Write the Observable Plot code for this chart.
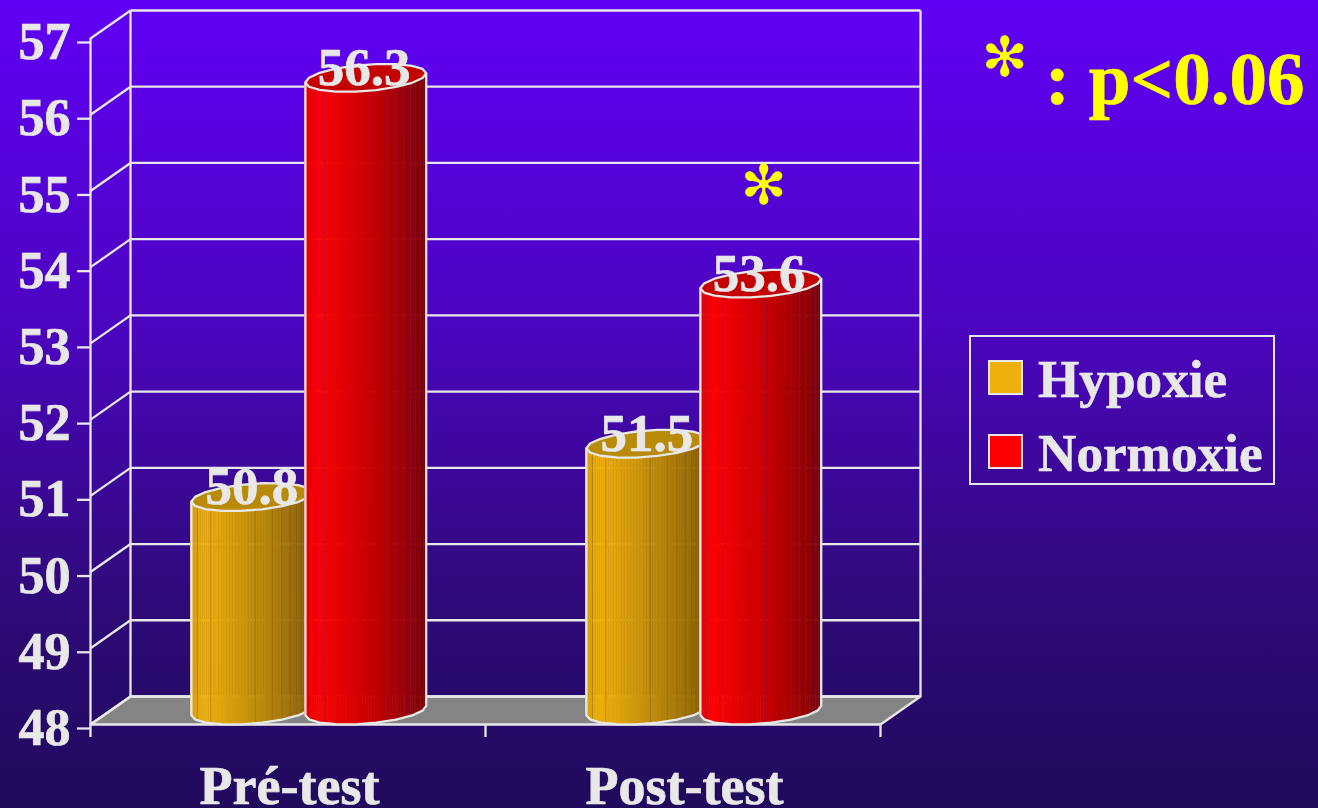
<!DOCTYPE html>
<html lang="fr">
<head>
<meta charset="utf-8">
<title>Hypoxie / Normoxie</title>
<script src="https://cdn.jsdelivr.net/npm/d3@7"></script>
<script src="https://cdn.jsdelivr.net/npm/@observablehq/plot@0.6"></script>
<style>
  html, body { margin: 0; padding: 0; }
  #page {
    position: relative; width: 1318px; height: 808px; overflow: hidden;
    background: linear-gradient(#6000f5 0%, #4c05c0 40%, #2e0a78 75%, #200a5c 100%);
    font-family: "Liberation Serif", serif; font-weight: bold; color: #e8e8e8;
  }
  #page svg { display: block; }
  #page svg g[aria-label$="tick label"] { stroke: #e8e8e8; stroke-width: 0.7px; }
  .legend {
    position: absolute; left: 969px; top: 335px; width: 302px; height: 146px;
    border: 2px solid #e8e8e8; box-sizing: content-box;
  }
  .legend .swatch {
    position: absolute; left: 17px; width: 31px; height: 31px;
    border: 2px solid #e8e8e8;
  }
  .legend .name {
    position: absolute; left: 67px; font-size: 53.2px; line-height: 54px; white-space: nowrap;
    -webkit-text-stroke: 0.6px #e8e8e8;
  }
</style>
</head>
<body>
<div id="page"></div>
<script>
const categories = ["Pré-test", "Post-test"];
const seriesNames = ["Hypoxie", "Normoxie"];
const hypoxie = [50.8, 51.5];
const normoxie = [56.3, 53.6];
const yTicks = [48, 49, 50, 51, 52, 53, 54, 55, 56, 57];
const starGlyph = "✻";
const significance = ": p<0.06";

// Oblique projection of the chart box, expressed in axis units.
const depthX = 40 / 395;
const depthY = 28 / 76.2;
const barWidth = 114 / 395;
const yBase = 48, yTop = 57;

const ink = "#e8e8e8";
const lineWidth = 2.3;

// Positions of the facet seams across a cylinder, as fractions of its width.
const seamFractions = [0.05, 0.16, 0.53, 0.67, 0.75, 0.82, 0.87, 0.91, 0.95, 0.98];

const palettes = {
  Hypoxie: {
    top: "#b98a08",
    seam: "#7a5a30",
    shade: d3.piecewise(d3.interpolateRgb, ["#d8a00c", "#f0b00c", "#c08c0a", "#a87a08", "#8a6206"]),
    swatch: "#f0b00c"
  },
  Normoxie: {
    top: "#c40000",
    seam: "#802060",
    shade: d3.piecewise(d3.interpolateRgb, ["#e60000", "#ff0000", "#c80000", "#a80000", "#7d0000"]),
    swatch: "#ff0000"
  }
};
// Brightest band sits near the left edge of each cylinder.
function shadeAt(pal, f) {
  const stops = [0, 0.12, 0.55, 0.77, 1];
  let i = d3.bisectRight(stops, f) - 1;
  i = Math.max(0, Math.min(stops.length - 2, i));
  const local = (f - stops[i]) / (stops[i + 1] - stops[i]);
  return pal.shade((i + local) / (stops.length - 1));
}

const rad = (deg) => (deg * Math.PI) / 180;
// Point on the circular section of a cylinder, sheared by the box depth.
function rim(cx, level, deg) {
  const t = rad(deg);
  return {
    x: cx + (barWidth / 2) * Math.cos(t) + (depthX / 2) * (1 + Math.sin(t)),
    y: level + (depthY / 2) * (1 + Math.sin(t))
  };
}
const edgeAngle = (Math.atan2(depthX, barWidth) * 180) / Math.PI;

function cylinderMarks(cx, value, name) {
  const pal = palettes[name];
  const leftDeg = 180 + edgeAngle;
  const rightDeg = 360 + edgeAngle;
  const xLeft = rim(cx, value, leftDeg).x;
  const xRight = rim(cx, value, rightDeg).x;

  const step = 3;
  const strips = [];
  for (let a = leftDeg, id = 0; a < rightDeg - 0.01; a += step, id++) {
    const b = Math.min(a + step, rightDeg);
    const mid = rim(cx, value, (a + b) / 2);
    const color = shadeAt(pal, (mid.x - xLeft) / (xRight - xLeft));
    for (const d of [a, b]) {
      strips.push({
        id, color,
        x: rim(cx, value, d).x,
        y1: rim(cx, yBase, d).y,
        y2: rim(cx, value, d).y
      });
    }
  }

  const seams = seamFractions.map((f) => {
    const a = leftDeg + (Math.acos(1 - 2 * f) * 180) / Math.PI;
    return { x: rim(cx, value, a).x, y1: rim(cx, yBase, a).y, y2: rim(cx, value, a).y };
  });

  const lid = d3.range(0, 361, 20).map((a) => rim(cx, value, a + edgeAngle));
  const shell = [
    rim(cx, value, leftDeg),
    ...d3.range(0, 181, 20).map((a) => rim(cx, yBase, leftDeg + a)),
    rim(cx, value, rightDeg)
  ];

  return [
    Plot.areaY(strips, {
      x: "x", y1: "y1", y2: "y2", z: "id",
      fill: "color", stroke: "color", strokeWidth: 0.6
    }),
    Plot.link(seams, {
      x1: "x", x2: "x", y1: "y1", y2: "y2",
      stroke: pal.seam, strokeWidth: 1, strokeOpacity: 0.4
    }),
    Plot.line(shell, { x: "x", y: "y", stroke: ink, strokeWidth: lineWidth, fill: "none" }),
    Plot.line(lid, { x: "x", y: "y", stroke: ink, strokeWidth: lineWidth, fill: pal.top })
  ];
}

const groups = categories.map((c, i) => i + 0.5);
const barShift = 0.002;
const barRows = categories.flatMap((c, i) => [
  { name: seriesNames[0], value: hypoxie[i], cx: groups[i] - barWidth / 2 + barShift, nudge: 0 },
  { name: seriesNames[1], value: normoxie[i], cx: groups[i] + barWidth / 2 + barShift, nudge: -0.004 }
]);

// Back wall and floor corners, in axis units.
const backLeft = depthX, backRight = 2 + depthX;
const floor = [
  { x: 0, y: yBase },
  { x: 2, y: yBase },
  { x: backRight, y: yBase + depthY },
  { x: backLeft, y: yBase + depthY },
  { x: 0, y: yBase }
];

const starFont = "'DejaVu Sans', sans-serif";

const chart = Plot.plot({
  width: 1318,
  height: 808,
  marginLeft: 90,
  marginRight: 438,
  marginTop: 38,
  marginBottom: 84,
  x: { domain: [0, 2] },
  y: { domain: [yBase, yTop] },
  color: { type: "identity" },
  style: {
    background: "transparent",
    color: ink,
    fontFamily: "'Liberation Serif', serif",
    fontWeight: "bold",
    fontSize: "54px",
    overflow: "visible"
  },
  marks: [
    // Floor
    Plot.line(floor, { x: "x", y: "y", fill: "#848484", stroke: ink, strokeWidth: lineWidth }),
    // Back wall gridlines and side wall slants
    Plot.link(yTicks, {
      x1: backLeft, x2: backRight,
      y1: (d) => d + depthY, y2: (d) => d + depthY,
      stroke: ink, strokeWidth: lineWidth
    }),
    Plot.link(yTicks, {
      x1: 0, x2: backLeft,
      y1: (d) => d, y2: (d) => d + depthY,
      stroke: ink, strokeWidth: lineWidth
    }),
    Plot.link([backLeft, backRight], {
      x1: (d) => d, x2: (d) => d,
      y1: yBase + depthY, y2: yTop + depthY,
      stroke: ink, strokeWidth: lineWidth
    }),
    // Front edges and axes
    Plot.ruleX([0], { y1: yBase, y2: yTop, stroke: ink, strokeWidth: lineWidth }),
    Plot.axisY({ ticks: yTicks, tickFormat: (d) => `${d}`, tickSize: 13, tickPadding: 7, dy: 4, fontSize: 52, strokeWidth: lineWidth, label: null }),
    Plot.axisX({ ticks: [0, 1, 2], tickFormat: () => "", tickSize: 13, strokeWidth: lineWidth, label: null }),
    Plot.axisX({ ticks: groups, tickFormat: (d) => categories[d - 0.5], tickSize: 0, tickPadding: 41, dx: 1.5, label: null }),
    // Cylinders, left to right so each one overlaps its neighbour
    ...barRows.flatMap((d) => cylinderMarks(d.cx, d.value, d.name)),
    // Value labels
    Plot.text(barRows, {
      x: (d) => d.cx + depthX / 2 + d.nudge,
      y: "value",
      text: (d) => d.value.toFixed(1),
      fill: ink,
      stroke: ink,
      strokeWidth: 0.7,
      fontSize: 53,
      lineAnchor: "bottom",
      dy: -7
    }),
    // Significance marker above the post-test normoxia cylinder
    Plot.text([starGlyph], {
      x: 1.704,
      y: 55.06,
      fill: "#ffff00",
      fontFamily: starFont,
      fontWeight: "normal",
      fontSize: 55
    }),
    // Key for the marker, to the right of the box
    Plot.text([starGlyph], {
      frameAnchor: "top-right",
      dx: 124,
      dy: 20,
      lineAnchor: "middle",
      textAnchor: "middle",
      fill: "#ffff00",
      fontFamily: starFont,
      fontWeight: "normal",
      fontSize: 55
    }),
    Plot.text([significance], {
      frameAnchor: "top-right",
      dx: 424,
      dy: 65,
      lineAnchor: "bottom",
      textAnchor: "end",
      fill: "#ffff00",
      stroke: "#ffff00",
      strokeWidth: 0.7,
      fontSize: 75
    })
  ]
});

const page = document.getElementById("page");
page.appendChild(chart);

// Legend box to the right of the chart
const legend = document.createElement("div");
legend.className = "legend";
seriesNames.forEach((name, i) => {
  const top = 23 + i * 74;
  const sw = document.createElement("div");
  sw.className = "swatch";
  sw.style.top = `${top}px`;
  sw.style.background = palettes[name].swatch;
  const label = document.createElement("div");
  label.className = "name";
  label.style.top = `${top - 7}px`;
  label.textContent = name;
  legend.append(sw, label);
});
page.appendChild(legend);
</script>
</body>
</html>
